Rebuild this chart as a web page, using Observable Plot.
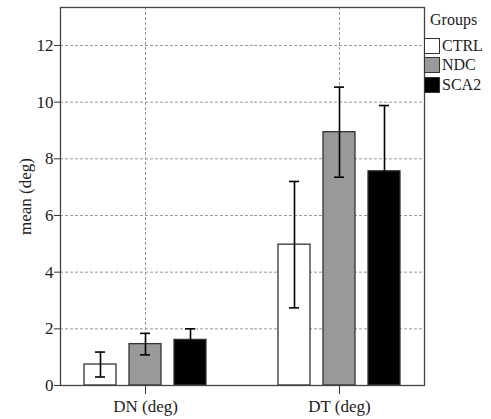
<!DOCTYPE html>
<html><head><meta charset="utf-8">
<script src="https://cdn.jsdelivr.net/npm/d3@7"></script>
<script src="https://cdn.jsdelivr.net/npm/@observablehq/plot@0.6"></script>
<style>
body{margin:0;background:#fff;}
#wrap{position:relative;width:491px;height:419px;font-family:"Liberation Serif",serif;}
#legend{position:absolute;left:424px;top:12px;font-size:16px;color:#222;line-height:1;}
#legend .title{margin-left:6px;margin-bottom:8px;}
#legend .row{display:flex;align-items:center;height:19.5px;}
#legend .sw{width:14px;height:14px;border:1px solid #333;margin-right:2px;box-sizing:content-box;}
</style></head><body><div id="wrap"></div>
<script>
const groups = ["DN (deg)", "DT (deg)"];
const series = ["CTRL", "NDC", "SCA2"];
const fills = ["#ffffff", "#999999", "#000000"];
const ctrlMean = [0.74, 4.97];
const ctrlErr = [0.44, 2.23];
const ndcMean = [1.46, 8.94];
const ndcErr = [0.38, 1.59];
const sca2Mean = [1.61, 7.56];
const sca2Err = [0.39, 2.32];
const yTicks = [0, 2, 4, 6, 8, 10, 12];

const means = [ctrlMean, ndcMean, sca2Mean];
const errs = [ctrlErr, ndcErr, sca2Err];
const rows = [];
groups.forEach((g, gi) => series.forEach((s, si) => {
  const m = means[si][gi], e = errs[si][gi];
  rows.push({group: g, series: s, mean: m, lo: m - e, hi: m + e});
}));

const grid = {stroke: "#999", strokeOpacity: 1, strokeDasharray: "3,2", strokeWidth: 1};
const chart = Plot.plot({
  width: 491, height: 419,
  marginLeft: 60, marginRight: 67, marginTop: 7, marginBottom: 34,
  style: {fontFamily: "'Liberation Serif', serif", fontSize: "17px", color: "#222", background: "white"},
  fx: {domain: groups, paddingInner: 0.124, paddingOuter: 0, axis: null, label: null},
  x: {domain: series, paddingInner: 0.289, paddingOuter: 0.533, axis: null},
  y: {domain: [0, 13.34], axis: null},
  color: {domain: series, range: fills},
  marks: [
    Plot.ruleY(yTicks.slice(1), {y: d => d, fx: () => groups[0], insetRight: -24, ...grid}),
    Plot.ruleY(yTicks.slice(1), {y: d => d, fx: () => groups[1], ...grid}),
    Plot.gridFx({...grid}),
    Plot.barY(rows, {fx: "group", x: "series", y: "mean", fill: "series", stroke: "#333", strokeWidth: 1.3}),
    Plot.ruleX(rows, {fx: "group", x: "series", y1: "lo", y2: "hi", stroke: "#000", strokeWidth: 1.6}),
    Plot.tickY(rows, {fx: "group", x: "series", y: "hi", insetLeft: 11, insetRight: 11, stroke: "#000", strokeWidth: 1.6}),
    Plot.tickY(rows, {fx: "group", x: "series", y: "lo", insetLeft: 11, insetRight: 11, stroke: "#000", strokeWidth: 1.6}),
    Plot.frame({facet: "super", stroke: "#444", strokeWidth: 1.3}),
    Plot.axisY(yTicks, {tickSize: 6, tickPadding: 1, label: "mean (deg)", labelAnchor: "center", labelOffset: 42, labelArrow: "none", stroke: "#333"}),
    Plot.axisFx({anchor: "bottom", tickSize: 9, tickPadding: 5, label: null, stroke: "#333"})
  ]
});
const wrap = document.getElementById("wrap");
wrap.appendChild(chart);

const legend = document.createElement("div");
legend.id = "legend";
const title = document.createElement("div");
title.className = "title";
title.textContent = "Groups";
legend.appendChild(title);
series.forEach((s, i) => {
  const row = document.createElement("div");
  row.className = "row";
  const sw = document.createElement("div");
  sw.className = "sw";
  sw.style.background = fills[i];
  const t = document.createElement("span");
  t.textContent = s;
  row.appendChild(sw); row.appendChild(t);
  legend.appendChild(row);
});
wrap.appendChild(legend);
</script></body></html>
